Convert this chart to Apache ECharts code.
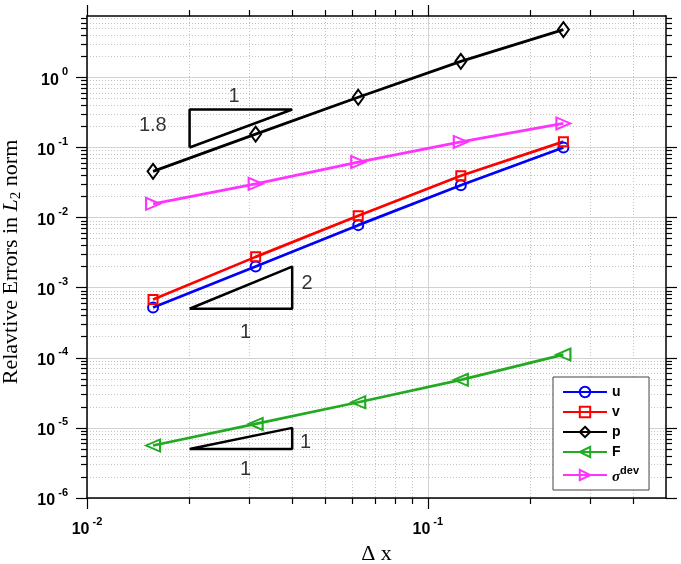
<!DOCTYPE html>
<html>
<head>
<meta charset="utf-8">
<script src="https://cdn.jsdelivr.net/npm/echarts@6/dist/echarts.min.js"></script>
<style>html,body{margin:0;padding:0;background:#fff}#c{width:681px;height:564px}</style>
</head>
<body>
<div id="c"></div>
<script>
// ---- data ----
const dx = [0.015625, 0.03125, 0.0625, 0.125, 0.25];
const errU = [5.2e-4, 2.0e-3, 7.8e-3, 0.029, 0.100];
const errV = [6.8e-4, 2.75e-3, 0.0106, 0.0395, 0.121];
const errP = [0.0456, 0.155, 0.52, 1.69, 4.8];
const errF = [5.6e-6, 1.14e-5, 2.32e-5, 4.85e-5, 1.11e-4];
const errSigma = [0.0157, 0.0303, 0.0619, 0.120, 0.220];
const seriesNames = ['u', 'v', 'p', 'F', 'σdev'];

// slope triangles (data coordinates)
const slopeTriP = [[0.02, 0.1], [0.02, 0.348], [0.04, 0.348], [0.02, 0.1]];
const slopeTriUV = [[0.02, 5e-4], [0.04, 5e-4], [0.04, 2e-3], [0.02, 5e-4]];
const slopeTriF = [[0.02, 5e-6], [0.04, 5e-6], [0.04, 1e-5], [0.02, 5e-6]];
const slopeLabels = [
  [0.0156, 0.209, '1.8'], [0.027, 0.526, '1'],
  [0.0442, 1.15e-3, '2'], [0.0292, 2.3e-4, '1'],
  [0.0438, 6.2e-6, '1'], [0.0292, 2.54e-6, '1']
];

// axes
const xMin = 0.01, xMax = 0.5, yMin = 1e-6, yMax = 7.5;
const xMajor = [0.01, 0.1];
const xMinor = [0.02, 0.03, 0.04, 0.05, 0.06, 0.07, 0.08, 0.09, 0.2, 0.3, 0.4];
const yMajor = [1e-6, 1e-5, 1e-4, 1e-3, 1e-2, 1e-1, 1];
const yMinor = [];
for (let d = -6; d <= 0; d++) {
  for (let k = 2; k <= 9; k++) {
    const v = k * Math.pow(10, d);
    if (v < yMax) yMinor.push(+v.toPrecision(3));
  }
}

const pow10Label = v => {
  const e = Math.round(Math.log10(v));
  return '{b|10}{e| ' + e + '}';
};
const labelRich = {
  b: { fontFamily: 'Liberation Sans, Arial', fontWeight: 'bold', fontSize: 16, color: '#000', lineHeight: 22, verticalAlign: 'bottom' },
  e: { fontFamily: 'Liberation Sans, Arial', fontWeight: 'bold', fontSize: 11, color: '#000', lineHeight: 12, verticalAlign: 'top' }
};

const majorGrid = { show: true, lineStyle: { color: '#d2d2d2', width: 1, type: 'solid' } };
const minorGrid = { show: true, lineStyle: { color: '#c4c4c4', width: 1, type: [1, 2] } };
const axisLineBlack = { show: true, lineStyle: { color: '#000', width: 1.5 } };

function xAxisDef(pos, major, showLabel) {
  return {
    type: 'log', logBase: 10, min: xMin, max: xMax, position: pos, gridIndex: 0,
    axisLine: major ? axisLineBlack : { show: false },
    axisTick: { show: true, inside: false, length: major ? 11 : 6, customValues: major ? xMajor : xMinor,
      lineStyle: { color: '#000', width: 1.2 } },
    axisLabel: major && showLabel ? { show: true, customValues: xMajor, margin: 18, formatter: pow10Label, rich: labelRich } : { show: false },
    splitLine: major ? majorGrid : minorGrid,
    minorTick: { show: false }, minorSplitLine: { show: false }
  };
}
function yAxisDef(pos, major, showLabel) {
  return {
    type: 'log', logBase: 10, min: yMin, max: yMax, position: pos, gridIndex: 0,
    axisLine: major ? axisLineBlack : { show: false },
    axisTick: { show: true, inside: false, length: major ? 11 : 6, customValues: major ? yMajor : yMinor,
      lineStyle: { color: '#000', width: 1.2 } },
    axisLabel: major && showLabel ? { show: true, customValues: yMajor, margin: 19, formatter: pow10Label, rich: labelRich } : { show: false },
    splitLine: major ? majorGrid : minorGrid,
    minorTick: { show: false }, minorSplitLine: { show: false }
  };
}

const xAxes = [xAxisDef('bottom', true, true), xAxisDef('top', true, false), xAxisDef('bottom', false, false), xAxisDef('top', false, false)];
const yAxes = [yAxisDef('left', true, true), yAxisDef('right', true, false), yAxisDef('left', false, false), yAxisDef('right', false, false)];
xAxes[0].name = 'Δ x';
xAxes[0].nameLocation = 'middle';
xAxes[0].nameGap = 37;
xAxes[0].nameTextStyle = { fontFamily: 'Liberation Serif, Times New Roman, serif', fontSize: 22, color: '#000' };
yAxes[0].name = '{n|Relavtive Errors in }{i|L}{s|2}{n| norm}';
yAxes[0].nameLocation = 'middle';
yAxes[0].nameGap = 63;
yAxes[0].nameTextStyle = {
  padding: [0, 10, 0, 0],
  rich: {
    n: { fontFamily: 'Liberation Serif, Times New Roman, serif', fontSize: 22, color: '#000', lineHeight: 26, verticalAlign: 'middle' },
    i: { fontFamily: 'Liberation Serif, Times New Roman, serif', fontStyle: 'italic', fontSize: 22, color: '#000', lineHeight: 26, verticalAlign: 'middle' },
    s: { fontFamily: 'Liberation Serif, Times New Roman, serif', fontSize: 15, color: '#000', lineHeight: 15, verticalAlign: 'bottom' }
  }
};

const hollow = c => ({ color: 'rgba(255,255,255,0)', borderColor: c, borderWidth: 2 });
function mkSeries(name, ys, color, symbol, size, rotate) {
  return {
    name: name, type: 'line', xAxisIndex: 0, yAxisIndex: 0,
    data: dx.map((x, i) => [x, ys[i]]),
    symbol: symbol, symbolSize: size, symbolRotate: rotate || 0, showAllSymbol: true,
    lineStyle: { color: color, width: 2.7 }, itemStyle: hollow(color),
    emphasis: { disabled: true }, z: 3
  };
}
function triSeries(pts) {
  return {
    type: 'line', xAxisIndex: 0, yAxisIndex: 0, data: pts, symbol: 'none',
    lineStyle: { color: '#000', width: 2.5 }, emphasis: { disabled: true }, z: 2, silent: true
  };
}

const series = [
  mkSeries('u', errU, '#0000ff', 'circle', 10),
  mkSeries('v', errV, '#ff0000', 'rect', 9),
  mkSeries('p', errP, '#000000', 'diamond', [11, 15]),
  mkSeries('F', errF, '#22aa22', 'triangle', [12, 14], 90),
  mkSeries('σdev', errSigma, '#ff33ff', 'triangle', [12, 14], -90),
  triSeries(slopeTriP), triSeries(slopeTriUV), triSeries(slopeTriF),
  {
    type: 'scatter', xAxisIndex: 0, yAxisIndex: 0, symbolSize: 1,
    itemStyle: { color: 'rgba(0,0,0,0)' }, silent: true, z: 4,
    data: slopeLabels.map(l => ({ value: [l[0], l[1]], name: l[2] })),
    label: { show: true, position: 'inside', formatter: p => p.name,
      fontFamily: 'Liberation Sans, Arial', fontSize: 20, color: '#000' }
  }
];

const chart = echarts.init(document.getElementById('c'), null, { renderer: 'canvas' });
chart.setOption({
  animation: false,
  backgroundColor: '#fff',
  grid: { left: 87, right: 15, top: 16, bottom: 66, containLabel: false, outerBoundsMode: 'none' },
  xAxis: xAxes,
  yAxis: yAxes,
  legend: {
    data: seriesNames, orient: 'vertical', left: 553, top: 377,
    itemWidth: 44, itemHeight: 13, itemGap: 6,
    padding: [8, 10, 5, 9], backgroundColor: '#fff', borderColor: '#444', borderWidth: 1,
    formatter: n => n === 'σdev' ? '{g|σ}{d|dev}' : n,
    textStyle: {
      fontFamily: 'Liberation Sans, Arial', fontWeight: 'bold', fontSize: 14, color: '#000',
      rich: {
        g: { fontFamily: 'Liberation Serif, serif', fontStyle: 'italic', fontSize: 15, color: '#000', lineHeight: 20, verticalAlign: 'bottom' },
        d: { fontFamily: 'Liberation Sans, Arial', fontWeight: 'bold', fontSize: 11, color: '#000', lineHeight: 12, verticalAlign: 'top' }
      }
    },
    selectedMode: false
  },
  series: series
});
</script>
</body>
</html>
